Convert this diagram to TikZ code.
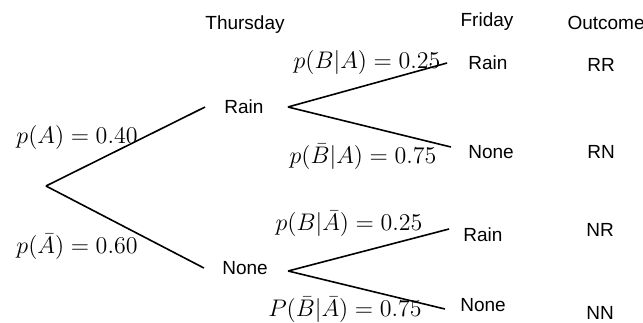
\documentclass[tikz,border=0pt]{standalone}
\usepackage{fontspec}
\setmainfont{Liberation Sans}
\begin{document}
\begin{tikzpicture}[x=0.5pt,y=-0.5pt,
  lbl/.style={inner sep=0pt,font=\fontsize{9.5}{11}\selectfont},
  prob/.style={inner sep=0pt,font=\fontsize{12}{14}\selectfont},
  branch/.style={line width=0.8pt,black}]
\useasboundingbox (0,0) rectangle (643,322);
% headers
\node[lbl] (thu) at (245,25) {Thursday};
\node[lbl] (fri) at (487,22) {Friday};
\node[lbl,anchor=east] (out) at (645,23) {Outcome};
% tree nodes
\coordinate (root) at (46,186);
\node[lbl] (r1) at (244,107) {Rain};
\node[lbl] (n1) at (245,268) {None};
\node[lbl] (rr) at (488,63) {Rain};
\node[lbl] (rn) at (491,152) {None};
\node[lbl] (nr) at (483,235) {Rain};
\node[lbl] (nn) at (483,305) {None};
% outcomes
\node[lbl] (oRR) at (601,65) {RR};
\node[lbl] (oRN) at (601,152) {RN};
\node[lbl] (oNR) at (600,230) {NR};
\node[lbl] (oNN) at (600,313) {NN};
% branches
\draw[branch] (root) -- ([xshift=-9.5pt]r1.west);
\draw[branch] (root) -- ([xshift=-9pt]n1.west);
\draw[branch] ([xshift=12pt]r1.east) -- ([xshift=-10.5pt]rr.west);
\draw[branch] ([xshift=12pt]r1.east) -- ([xshift=-8.5pt,yshift=2.5pt]rn.west);
\draw[branch] ([xshift=10pt,yshift=-1.5pt]n1.east) -- ([xshift=-7pt,yshift=3pt]nr.west);
\draw[branch] ([xshift=10pt,yshift=-1.5pt]n1.east) -- ([xshift=-7.5pt,yshift=-2pt]nn.west);
% probabilities
\node[prob] (pA) at (77,137) {$p(A) = 0.40$};
\node[prob] (pAb) at (77,247) {$p(\bar{A}) = 0.60$};
\node[prob] (pBA) at (367,62) {$p(B|A) = 0.25$};
\node[prob] (pBbA) at (363,157) {$p(\bar{B}|A) = 0.75$};
\node[prob] (pBAb) at (349,224) {$p(B|\bar{A}) = 0.25$};
\node[prob] (pBbAb) at (345,310) {$P(\bar{B}|\bar{A}) = 0.75$};
\end{tikzpicture}
\end{document}
